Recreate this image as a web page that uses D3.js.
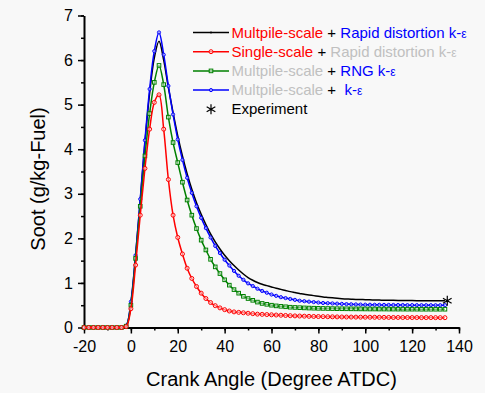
<!DOCTYPE html>
<html lang="en">
  <head>
    <meta charset="utf-8">
    <title>Soot</title>
    <style>
      body { margin: 0; background: #f8f8f8; }
      text { font-family: "Liberation Sans", Arial, sans-serif; }
    </style>
  </head>
  <body>

  <script src="https://cdn.jsdelivr.net/npm/d3@7/dist/d3.min.js"></script>
  <script>
    // crank angle (deg ATDC) of every computed point
    var angles = [-20,-18,-16,-14,-12,-10,-8,-6,-4,-2,
      0,2,4,6,8,10,12,14,16,18,20,22,24,26,28,30,32,34,36,38,
      40,42,44,46,48,50,52,54,56,58,60,62,64,66,68,70,72,74,76,78,
      80,82,84,86,88,90,92,94,96,98,100,102,104,106,108,110,112,114,116,118,
      120,122,124,126,128,130,132,134];

    var multiRapid = [0,0,0,0,0,0,0,0,0,0.04,
      0.55,1.6,2.85,4.15,5.25,6.05,6.42,6.0,5.38,4.82,4.3,3.85,3.45,3.1,2.8,2.54,2.31,2.1,1.92,1.76,
      1.62,1.5,1.39,1.29,1.2,1.12,1.06,1.01,0.97,0.94,0.91,0.88,0.855,0.83,0.805,0.785,0.765,0.745,0.73,0.715,
      0.7,0.685,0.675,0.665,0.655,0.647,0.64,0.635,0.63,0.627,0.624,0.621,0.618,0.615,0.613,0.611,0.609,0.607,0.605,0.604,
      0.603,0.602,0.601,0.6,0.6,0.6,0.6,0.6];

    var singleRapid = [0,0,0,0,0,0,0,0,0,0.02,
      0.42,1.4,2.52,3.57,4.45,5.05,5.22,4.45,3.32,2.52,2.02,1.65,1.33,1.1,0.92,0.77,0.65,0.56,0.49,0.44,
      0.4,0.37,0.35,0.34,0.33,0.32,0.31,0.3,0.295,0.29,0.285,0.28,0.275,0.27,0.265,0.26,0.257,0.254,0.251,0.248,
      0.246,0.244,0.242,0.24,0.238,0.236,0.235,0.234,0.233,0.232,0.231,0.23,0.229,0.228,0.227,0.226,0.225,0.225,0.224,0.224,
      0.223,0.223,0.222,0.222,0.222,0.221,0.221,0.22];

    var multiRng = [0,0,0,0,0,0,0,0,0,0.03,
      0.5,1.55,2.72,3.85,4.8,5.5,5.88,5.45,4.72,4.15,3.7,3.26,2.86,2.52,2.22,1.96,1.74,1.53,1.36,1.21,
      1.07,0.95,0.85,0.77,0.7,0.65,0.61,0.57,0.54,0.52,0.5,0.485,0.475,0.465,0.455,0.45,0.445,0.44,0.436,0.433,
      0.43,0.428,0.426,0.424,0.422,0.421,0.42,0.419,0.418,0.417,0.416,0.415,0.415,0.414,0.414,0.413,0.413,0.412,0.412,0.411,
      0.411,0.411,0.41,0.41,0.41,0.41,0.41,0.41];

    var multiKe = [0,0,0,0,0,0,0,0,0,0.04,
      0.58,1.62,2.88,4.2,5.35,6.2,6.62,6.12,5.42,4.78,4.22,3.76,3.36,3.02,2.72,2.46,2.23,2.02,1.83,1.67,
      1.52,1.39,1.27,1.16,1.07,0.99,0.93,0.87,0.82,0.78,0.74,0.71,0.68,0.66,0.64,0.62,0.6,0.59,0.58,0.57,
      0.56,0.55,0.545,0.54,0.535,0.53,0.525,0.52,0.517,0.514,0.512,0.51,0.509,0.508,0.507,0.506,0.505,0.504,0.503,0.502,
      0.502,0.501,0.501,0.5,0.5,0.5,0.5,0.5];

    var expAngle = [135];
    var expSoot = [0.6];

    var xTicks = [-20,0,20,40,60,80,100,120,140];
    var yTicks = [0,1,2,3,4,5,6,7];

    var svgcanvas = d3.select("body").append("svg:svg").attr("width", 485).attr("height", 393);
    svgcanvas.append("rect").attr("width", 485).attr("height", 393).style("fill", "#f8f8f8");

    var x = d3.scaleLinear().domain([-20, 140]).range([84, 459]);
    var y = d3.scaleLinear().domain([0, 7]).range([327.5, 15.5]);

    // minor ticks first so the major ones sit on top
    svgcanvas.append("g").attr("transform", "translate(0,327.5)")
      .call(d3.axisBottom(x).ticks(16).tickSize(3).tickFormat(""))
      .call(function(g){ g.select(".domain").remove(); })
      .selectAll("line").style("stroke-width", 1.5);
    svgcanvas.append("g").attr("transform", "translate(84,0)")
      .call(d3.axisLeft(y).ticks(14).tickSize(3).tickFormat(""))
      .call(function(g){ g.select(".domain").remove(); })
      .selectAll("line").style("stroke-width", 1.5);

    // plain hyphen minus, like the original labels
    var plain = function(d){ return String(d); };
    var xAxis = svgcanvas.append("g").attr("transform", "translate(0,327.5)")
      .call(d3.axisBottom(x).tickValues(xTicks).tickFormat(plain).tickSize(6).tickSizeOuter(0).tickPadding(7));
    var yAxis = svgcanvas.append("g").attr("transform", "translate(84,0)")
      .call(d3.axisLeft(y).tickValues(yTicks).tickFormat(plain).tickSize(6).tickSizeOuter(0).tickPadding(5));
    [xAxis, yAxis].forEach(function(a){
      a.select(".domain").style("stroke-width", 2);
      a.selectAll("line").style("stroke-width", 1.5);
      a.selectAll("text").style("font-size", "16px").style("font-family", "Liberation Sans, Arial, sans-serif").style("fill", "#000");
    });

    // Axis titles
    svgcanvas.append("svg:text").attr("x", 271.5).attr("y", 386)
      .attr("text-anchor", "middle").style("font-size", "20px").text("Crank Angle (Degree ATDC)");
    svgcanvas.append("svg:text").attr("transform", "translate(45,179) rotate(-90)")
      .attr("text-anchor", "middle").style("font-size", "20px").text("Soot (g/kg-Fuel)");

    var series = [
      { vals: multiRapid, color: "#000000", marker: "none" },
      { vals: multiKe, color: "#0000ff", marker: "circle", r: 1.6 },
      { vals: multiRng, color: "#008000", marker: "square", r: 1.8 },
      { vals: singleRapid, color: "#ff0000", marker: "circle", r: 2 }
    ];

    var line = d3.line()
      .x(function(d, i){ return x(angles[i]); })
      .y(function(d){ return y(d); })
      .curve(d3.curveCatmullRom);

    function drawMarker(g, s, cx, cy){
      if (s.marker == "circle"){
        g.append("circle").attr("cx", cx).attr("cy", cy).attr("r", s.r)
          .style("fill", "#fff").style("fill-opacity", 0.5).style("stroke", s.color).style("stroke-width", 1);
      } else if (s.marker == "square"){
        g.append("rect").attr("x", cx - s.r).attr("y", cy - s.r).attr("width", s.r * 2).attr("height", s.r * 2)
          .style("fill", "#fff").style("fill-opacity", 0.5).style("stroke", s.color).style("stroke-width", 1);
      } else {
        g.append("circle").attr("cx", cx).attr("cy", cy).attr("r", 1).style("fill", s.color);
      }
    }

    // draw back to front: red on top like the original
    series.forEach(function(s){
      var g = svgcanvas.append("svg:g");
      g.append("path").attr("d", line(s.vals))
        .style("fill", "none").style("stroke", s.color).style("stroke-width", 1.5);
      if (s.marker != "none"){
        s.vals.forEach(function(v, i){ drawMarker(g, s, x(angles[i]), y(v)); });
      }
    });

    // Experiment point
    var star = d3.symbol().type(d3.symbolAsterisk).size(70);
    svgcanvas.selectAll(".exp").data(expSoot).enter().append("path")
      .attr("d", star)
      .attr("transform", function(d, i){ return "translate(" + x(expAngle[i]) + "," + y(d) + ")"; })
      .style("fill", "none").style("stroke", "#000").style("stroke-width", 1.2);

    // Legend
    var legendRows = [
      { s: series[0], parts: [["Multpile-scale", "#ff0000"], [" + ", "#000"], ["Rapid distortion k-", "#0000ff"], ["ε", "#0000ff", 1]] },
      { s: series[3], parts: [["Single-scale", "#ff0000"], [" + ", "#000"], ["Rapid distortion k-", "#c0c0c0"], ["ε", "#c0c0c0", 1]] },
      { s: series[2], parts: [["Multpile-scale", "#c0c0c0"], [" + ", "#000"], ["RNG k-", "#0000ff"], ["ε", "#0000ff", 1]] },
      { s: series[1], parts: [["Multpile-scale", "#c0c0c0"], [" +  ", "#000"], ["k-", "#0000ff"], ["ε", "#0000ff", 1]] }
    ];
    legendRows.forEach(function(row, i){
      var ly = 32.5 + i * 19.2;
      var g = svgcanvas.append("svg:g");
      g.append("line").attr("x1", 193).attr("x2", 229).attr("y1", ly).attr("y2", ly)
        .style("stroke", row.s.color).style("stroke-width", 1.5);
      drawMarker(g, row.s, 211, ly);
      var t = g.append("svg:text").attr("x", 231.5).attr("y", ly + 5).style("font-size", "15px")
        .attr("xml:space", "preserve");
      row.parts.forEach(function(p){
        t.append("tspan").style("fill", p[1]).style("font-size", p[2] ? "12px" : null).text(p[0]);
      });
    });
    svgcanvas.append("path").attr("d", star).attr("transform", "translate(211," + (32.5 + 4 * 19.2) + ")")
      .style("fill", "none").style("stroke", "#000").style("stroke-width", 1.2);
    svgcanvas.append("svg:text").attr("x", 231.5).attr("y", 32.5 + 4 * 19.2 + 5)
      .style("font-size", "15px").text("Experiment");
  </script>
  </body>
</html>
